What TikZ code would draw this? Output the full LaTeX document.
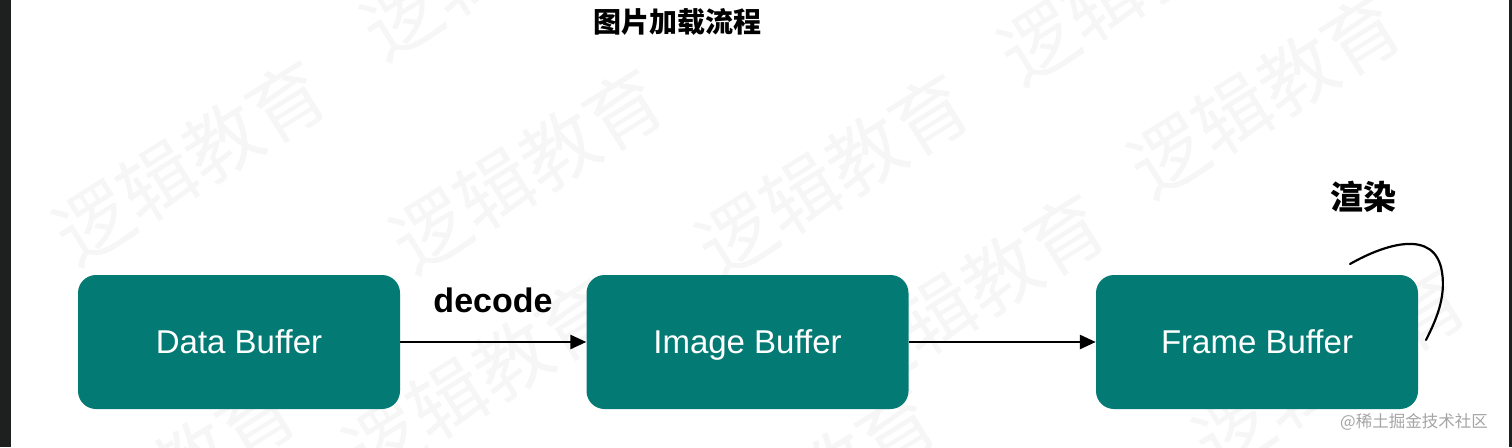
\documentclass[tikz,border=0pt]{standalone}
\usepackage{fontspec}
\setmainfont{Liberation Sans}
\newfontfamily\cjk{Noto Sans CJK SC}
\usetikzlibrary{arrows.meta}
\definecolor{tealbox}{RGB}{3,123,116}
\definecolor{wm}{RGB}{246,246,246}
\definecolor{edgedark}{RGB}{30,31,31}
\definecolor{credit}{RGB}{165,165,165}
\begin{document}
\begin{tikzpicture}[x=1pt,y=-1pt,
  buf/.style={draw=none, fill=tealbox, rounded corners=18pt, minimum width=322pt,
    minimum height=134pt, text=white, font=\fontsize{33}{40}\selectfont, inner sep=0pt,
    text height=23.6pt, text depth=0pt},
  flow/.style={line width=2.8pt, -{Triangle[length=16pt,width=14pt]}},
  wmark/.style={text=wm, rotate=32, font=\cjk\fontsize{76}{76}\selectfont, inner sep=0pt},
  lbl/.style={font=\bfseries\fontsize{34}{40}\selectfont, inner sep=0pt},
  cjklbl/.style={font=\cjk\bfseries\fontsize{33}{40}\selectfont, inner sep=0pt}]
\useasboundingbox (0,0) rectangle (1512,447);
\fill[white] (0,0) rectangle (1512,447);
% watermark
\begin{scope}
\clip (11,0) rectangle (1509,447);
\foreach \px/\py [count=\i] in {190/162, 527/170, 833/175, 1265/95, 969/295, 480/380,
  1135/-18, 498/-43, 160/480, 800/490, 1330/370}{
  \node[wmark] (wm\i) at (\px,\py) {逻辑教育};
}
\end{scope}
% frame edges
\fill[edgedark] (0,0) rectangle (11,447);
\fill[edgedark] (1509,0) rectangle (1512,447);
% title
\node[cjklbl, font=\cjk\bfseries\fontsize{28}{34}\selectfont] (title) at (677,22) {图片加载流程};
% boxes
\node[buf] (data) at (239,342) {Data Buffer};
\node[buf] (image) at (747.5,342) {Image Buffer};
\node[buf] (frame) at (1257,342) {Frame Buffer};
% arrows
\draw[flow] (data.east) -- (image.west);
\draw[flow] (image.east) -- (frame.west);
\node[lbl] (decode) at (493,300) {decode};
% render loop
\node[cjklbl] (render) at (1363,197) {渲染};
\coordinate (r1) at (1350,264);
\coordinate (r2) at (1426,340);
\draw[line width=2.2pt, line cap=round] (r1) .. controls (1385,244) and (1435,228) .. (1442,272)
  .. controls (1446,298) and (1436,320) .. (r2);
% credit
\node[text=credit, font=\cjk\fontsize{16.5}{20}\selectfont, inner sep=0pt] (credit) at (1414,422) {@稀土掘金技术社区};
\end{tikzpicture}
\end{document}
